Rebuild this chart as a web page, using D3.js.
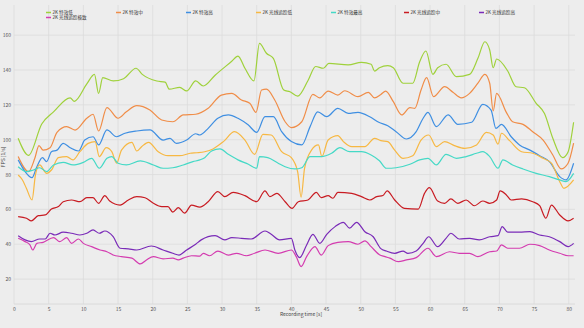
<!DOCTYPE html>
<html><head><meta charset="utf-8">
<script src="https://cdn.jsdelivr.net/npm/d3@7"></script>
<style>
html,body{margin:0;padding:0;background:#ededed;}
svg{display:block;}
text{font-family:"Noto Sans CJK SC","Open Sans",sans-serif;}
</style></head><body>
<svg id="c" width="584" height="328"></svg>
<script>
// ---- data ----
const seriesNames = ["2K 特效低","2K 特效中","2K 特效高","2K 光线追踪低","2K 特效最高","2K 光线追踪中","2K 光线追踪高","2K 光线追踪极致"];
const seriesColors = ["#9fd13b","#f08d48","#3f8fe2","#f7b843","#45d9c6","#c81b22","#7a2bb8","#d43cb0"];
const xTicks = [0,5,10,15,20,25,30,35,40,45,50,55,60,65,70,75,80];
const yTicks = [20,40,60,80,100,120,140,160];

const tLow = [0.6,2.1,4,5.7,8.1,8.7,10.5,11.6,12.2,12.8,14.3,15.8,17.6,18.5,20.6,21.8,22.4,23.9,24.9,26.2,27.3,29,31.4,32.3,33.3,34.6,35.4,36.4,37.4,38.9,39.8,40.9,42.4,43.5,44.6,45.4,48.2,50.1,51.5,52,52.7,53.9,54.7,56.1,57.5,58.5,59.4,60.4,61.1,62.3,63.8,65.7,66.9,67.9,68.6,69.1,69.6,71.2,72.4,73.6,75.3,76.5,77.7,79.1,79.9,80.7];
const fpsLow = [100.8,91,109,116,124,122,132,137.5,126.6,135.6,133.7,135,141,137.5,133.7,133,129,130,128,133.7,130.8,137,145,148,141,133.7,155.3,149.6,146.7,128.5,127.5,125,134,142,141,143.8,142.9,144.4,143.3,139.4,141.3,142.5,141.3,132.4,132.4,144.7,150.9,137.5,141.3,143.3,136.2,137.5,146.7,156.2,151.5,141.3,146.3,139.4,130.4,129.8,120.9,115,100.8,89.7,93,110];

const tMid = [0.6,2.1,3,3.6,4.2,5.2,6.2,7.6,8.8,10.5,11.4,12.2,13.4,15,16.2,17.7,19.6,21.3,22.9,24.4,26.2,28,29.9,31.4,32.8,34,34.9,35.7,36.4,37.6,39.1,40,41.5,43.1,44.1,45.3,46.7,47.7,49.6,51.1,52,52.9,53.6,54.7,55.9,57.1,57.8,58.7,59.5,60.5,62.1,63.3,64.5,65.7,66.9,67.9,68.6,69.1,69.6,71,71.9,73.4,74.8,76.3,77.7,78.9,79.9,80.7];
const fpsMid = [90.3,81.7,89.3,96.6,94,95.4,104.2,107.5,105.5,112.3,114.6,105,118.4,112.3,116,119.5,117,111.3,110.3,114.2,114.6,118,125.6,126.6,122.8,120.9,115.7,128.5,129,122.8,110.3,106.9,110.3,126,124,127.9,125.6,128.1,124.7,127.2,124,126,127.9,121.8,114.2,118.4,118,128.5,135.6,124.7,130.4,127.2,124,126.6,132.4,137.5,132.4,116.5,126.6,115.7,110.3,108.8,104.6,99.8,91.2,83.2,86.5,98];

const tHigh = [0.6,1.6,2.6,3.3,4.1,4.7,5.4,6.2,7.1,8.1,9.3,10.2,11.4,12.2,13.4,14.8,16,17.7,19.6,21.5,22.5,23.4,24.9,26.2,26.8,28,29.4,30.9,32.3,33.8,35,36.2,37.4,38.6,40,41.5,42.7,43.8,45.1,46.7,48.2,49.6,51.3,52.6,53.9,55.1,56.6,58,59,59.7,60.9,62.6,64,66,67.6,68.8,69.5,70.3,71.7,72.9,74.4,75.8,77.2,78.7,79.6,80.7];
const fpsHigh = [88.4,81.7,78.2,84.5,89.7,87.4,93.1,94,97.9,95.4,93.5,99.8,101.7,97,105.6,101.7,103.7,105,105.6,99.8,100.8,97.9,99.8,103.4,102.7,106.5,112.3,114.2,112.3,108.4,104.2,113.2,113.2,104.6,98.9,97,107.5,116,113.2,118,115.1,115.7,113.2,110,108,104.6,100.4,104.6,112.3,115.7,107.5,114.2,108.8,110,120.3,117,106.5,108.8,101.7,97,94,90.8,87.4,78.8,76.9,86.5];

const tRtLow = [0.6,1.2,1.8,2.6,3.1,3.7,4.7,5.4,6.4,7.6,8.5,9.5,10.7,11.7,12.3,13.3,14.1,14.8,15.5,17,17.7,18.4,19.4,20.8,22.2,23.9,25.4,26.4,27.5,28.7,30.2,31.8,33.3,34.7,35.9,37.1,38.6,40,40.9,41.4,41.9,42.9,43.9,44.4,45.3,46.7,47.5,48.7,50.6,52,52.9,53.9,54.9,56.1,57.5,58.7,59.8,60.9,62.1,63.5,65,66.7,68.1,69.1,69.8,70.3,71.5,73.2,74.8,76.3,77.5,78.7,79.3,80.7];
const fpsRtLow = [79.7,77,72,65.4,80,85.5,80.7,82.6,89.7,90.3,88.4,93.1,97.9,98.9,90.3,95.4,93.1,86.5,94,98.5,93.5,96,98.5,93.1,90.8,90.8,92.2,92.5,93.1,94.7,98.9,104.6,99.8,91.6,103.1,102.7,93.1,89.7,81.7,67,83.6,94,97,90.3,99.8,102.3,98.9,96,96,100.8,99.5,98.9,94,89.3,90.8,99.8,102.7,96,98.9,96.6,95,97,104.2,102.7,97.4,103.7,99.3,93.1,92.2,89.3,86.5,75.9,72.1,76.9];

const tUltra = [0.6,1.8,2.8,3.7,4.7,5.7,7.1,8.5,10,11.2,12.3,13.4,14.1,15,16.2,18.2,20.1,21.5,22.9,24.4,25.8,26.8,27.5,28.5,29.7,30.9,32.3,33.8,35,35.4,36.6,38.1,39.1,40.5,41.5,42.7,44.3,45.8,47,48.4,50.1,51.5,52.7,53.7,55.1,57.1,58.5,59.7,60.9,62.3,63.8,65.2,66.7,67.6,68.6,69.8,70.5,71.9,73.4,75.3,77.2,78.7,79.6,80.7];
const fpsUltra = [84.5,81.7,82.6,83.9,81.7,85.5,87,85.5,87,89.3,83.6,89.3,90.3,86.5,85.5,87.8,85.5,83.6,83.9,85.5,87.4,88.4,89.7,93.5,94.7,91.6,88.4,85.9,83.6,90.3,89.7,86.5,84.5,83.2,83.9,90.3,90.3,92.2,95.4,93.1,93.1,91.2,87.9,83.6,83.9,85.9,88.4,89.3,85.5,91.6,89.3,90.3,92.2,93.1,90.3,83.6,88.4,85.5,83.2,80.7,78.8,76.9,75.9,80.7];

const tRtMid = [0.6,1.8,2.5,3.5,4.5,5.4,6.4,7.1,8.3,9.5,10.5,11.4,12.2,13.1,13.8,15.3,16.5,17.7,18.9,20.1,21.3,22.2,22.9,23.7,24.6,25.6,26.8,28,29.4,30.4,31.6,33.3,35,36.2,36.9,37.9,39.1,40.1,41,42.4,43.6,44.3,45.3,46,46.7,48.7,50.1,51.3,52.3,53.2,53.8,54.9,56.3,58.3,59.2,59.9,61.1,62.1,63,64,65.2,66.4,67.6,68.6,69.6,70.1,71,71.7,73.2,74.8,75.8,76.7,77.5,78.7,79.9,80.7];
const fpsRtMid = [55.8,54.9,53.4,56.4,56.8,60.2,61.6,64.4,65.4,64.4,66.7,66.7,63.5,67.9,64.8,62.5,65.4,67.3,66.7,63.5,61.6,61.6,58.4,61,57.8,62.5,61.3,64.4,70.2,67.3,69.8,67.9,64.4,70.6,67.3,69.2,64.4,60.6,64.4,65.4,69.8,66.7,67.9,66.4,69.8,69.2,67.3,65.4,67.3,68,70.6,65.4,60.6,60.2,69.2,72.5,64.8,63.5,66,63.5,65.4,62.1,64.8,63.5,65.4,70.6,68.3,65.4,66,64.4,62.1,54.9,62.5,56.8,53.4,54.9];

const tRtHigh = [0.6,1.6,2.5,3.7,4.5,5.2,5.9,7.1,8.3,9.5,10.5,11.4,12.3,13.1,14.3,15.3,16.5,17.7,19.8,21.5,22.9,23.8,24.9,26.2,27,29,30.4,31.4,32.8,34.2,36.2,37.1,38.3,40,40.5,41.2,42.2,43.1,44.1,45.1,46.3,47.5,48.4,49.4,50.6,51.8,52.9,53.7,54.9,56.1,56.8,58,59,59.8,61.1,62.3,63,64.2,65.7,67.1,68.6,69.8,70.4,71.2,72.9,74.4,75.8,77.2,78.7,79.9,80.7];
const fpsRtHigh = [44.9,42.5,41.5,43,43,46.3,45.3,46.9,46.3,45.3,46.3,48.2,46.3,47.6,44.3,37.7,37.3,36.7,39,36.7,34.8,33.8,36.7,40,42.5,44.9,42.5,43.8,43.4,43,47.6,45.7,42.5,43.4,36.7,32.3,39.6,45.7,40.5,45.7,50.1,52.6,49.2,52.6,47.2,44.3,37.5,36.1,34.8,36.1,34.8,36.1,40.5,44.3,38.6,43.4,46.3,43,43.4,42.5,44.3,44.9,50.1,46.9,46.9,47.2,45.3,44.3,41.5,38.6,40.5];

const tRtMax = [0.6,1.6,2.3,2.7,3.3,4.2,5.7,6.6,7.6,8.3,9.3,10,11.2,12.4,13.4,14.3,15.5,17,18.2,19.1,20.1,21.5,22.9,23.7,24.4,25.6,26.8,27.3,28.2,29.4,30.9,32.1,33.5,34.7,36.2,38.1,40,40.7,41.4,42.2,43.4,44.3,45.3,46.7,48.2,49.6,50.6,51.5,52.7,53.5,54.2,55.4,56.6,58,59.7,60.9,62.8,64.2,65.7,66.9,68.6,69.6,70.3,71.2,72.9,74.4,75.8,77.2,78.7,79.9,80.7];
const fpsRtMax = [43.4,41.5,39.6,36.7,40.5,41.1,43.8,41.5,43.8,40.5,43,40.5,38.6,36.7,35.7,33.8,32.9,32,28.7,31,32.9,31.6,32,31,32,33.4,33.2,34.8,33.4,36.1,33.8,34.8,33.4,34.8,36.7,34.8,36.7,32.9,27.2,32.9,38.6,33.8,39.2,41.1,41.5,40,41.9,38.6,34,32.9,32,30,31,32.3,37.7,32.9,35.7,34.8,34.8,32.9,35.7,36.1,39.6,37.7,37.7,40,39.2,36.7,34.8,33.4,33.4];

const seriesT = [tLow,tMid,tHigh,tRtLow,tUltra,tRtMid,tRtHigh,tRtMax];
const seriesV = [fpsLow,fpsMid,fpsHigh,fpsRtLow,fpsUltra,fpsRtMid,fpsRtHigh,fpsRtMax];

// ---- layout ----
const svg = d3.select("#c");
const x = d3.scaleLinear().domain([0, 80.9]).range([14, 575]);
const y = d3.scaleLinear().domain([5.7, 177.3]).range([304, 5]);

const grid = svg.append("g");
grid.selectAll("line.v").data(xTicks).enter().append("line")
  .attr("x1", d => x(d)).attr("x2", d => x(d)).attr("y1", 5).attr("y2", 304)
  .attr("stroke", "#dcdcdc").attr("stroke-width", 0.8);
grid.selectAll("line.h").data(yTicks).enter().append("line")
  .attr("x1", 14).attr("x2", 575).attr("y1", d => y(d)).attr("y2", d => y(d))
  .attr("stroke", "#dcdcdc").attr("stroke-width", 0.8);
grid.append("line").attr("x1",14).attr("x2",575).attr("y1",304).attr("y2",304).attr("stroke","#d6d6d6").attr("stroke-width",0.8);

// axes (tick labels only)
const xAxis = d3.axisBottom(x).tickValues(xTicks).tickSize(0).tickPadding(3);
const gx = svg.append("g").attr("transform","translate(0,304)").call(xAxis);
gx.select(".domain").remove();
gx.selectAll("text").attr("font-size",5).attr("fill","#555").attr("font-family","Open Sans, sans-serif");

const yAxis = d3.axisLeft(y).tickValues(yTicks).tickSize(0).tickPadding(3);
const gy = svg.append("g").attr("transform","translate(14,0)").call(yAxis);
gy.select(".domain").remove();
gy.selectAll("text").attr("font-size",5).attr("fill","#555").attr("font-family","Open Sans, sans-serif");

svg.append("text").attr("x", 301).attr("y", 316).attr("text-anchor","middle")
  .attr("font-size",5).attr("fill","#444").attr("font-family","Open Sans, sans-serif").text("Recording time [s]");
svg.append("text").attr("transform","translate(5,157) rotate(-90)").attr("text-anchor","middle")
  .attr("font-size",5).attr("fill","#444").attr("font-family","Open Sans, sans-serif").text("FPS [1/s]");

// lines
const line = d3.line().x(d => x(d[0])).y(d => y(d[1])).curve(d3.curveMonotoneX);
seriesT.forEach((ts, i) => {
  const pts = ts.map((t, k) => [t, seriesV[i][k]]);
  svg.append("path").datum(pts).attr("d", line)
    .attr("fill","none").attr("stroke", seriesColors[i]).attr("stroke-width", 1.2)
    .attr("stroke-linejoin","round");
});

// legend
const legX = [46,116,186,256,331,404,479];
const leg = svg.append("g");
seriesNames.forEach((name, i) => {
  const col = i % 7, row = Math.floor(i / 7);
  const gx0 = legX[col], gy0 = 12.5 + row * 5;
  leg.append("line").attr("x1", gx0).attr("x2", gx0 + 5).attr("y1", gy0).attr("y2", gy0)
    .attr("stroke", seriesColors[i]).attr("stroke-width", 1.5);
  leg.append("text").attr("x", gx0 + 6.5).attr("y", gy0 + 1.7).attr("font-size", 4.6)
    .attr("fill", "#333").text(name);
});
</script>
</body></html>
